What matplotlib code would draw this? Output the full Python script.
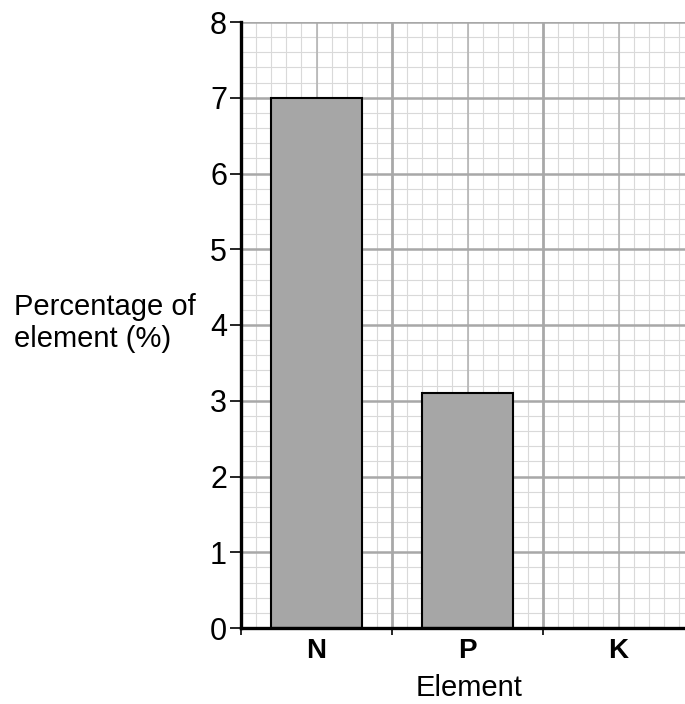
import numpy as np
import matplotlib.pyplot as plt

plt.rcParams['font.family'] = ['Liberation Sans', 'DejaVu Sans']

elements = ['N', 'P', 'K']
percent = [7.0, 3.1, 0.0]
y_ticks = [0, 1, 2, 3, 4, 5, 6, 7, 8]

fig = plt.figure(figsize=(6.85, 7.04), dpi=100)
W, H = 685, 704
# axes goes a bit past the right edge, like the cropped original
ax = fig.add_axes([241/W, 76/H, 453/W, 606/H])

ax.set_xlim(0, 3)
ax.set_ylim(0, 8)

# graph paper grid
for x in np.arange(0, 3.01, 0.1):
    ax.axvline(x, color='#d9d9d9', lw=0.8, zorder=0)
for y in np.arange(0, 8.01, 0.2):
    ax.axhline(y, color='#d9d9d9', lw=0.8, zorder=0)
for x in [0.5, 1.5, 2.5]:
    ax.axvline(x, color='#b4b4b4', lw=1.2, zorder=0)
for y in y_ticks:
    ax.axhline(y, color='#a8a8a8', lw=1.8, zorder=0)
for x in [1, 2, 3]:
    ax.axvline(x, color='#a8a8a8', lw=2.0, zorder=0)

xpos = np.arange(len(elements)) + 0.5
ax.bar(xpos, percent, width=0.6, color='#a6a6a6', edgecolor='black', linewidth=1.5, zorder=2)

for s in ['top', 'right']:
    ax.spines[s].set_visible(False)
ax.spines['left'].set_linewidth(2.4)
ax.spines['bottom'].set_linewidth(2.4)
ax.spines['left'].set_zorder(3)
ax.spines['bottom'].set_zorder(3)

ax.set_yticks(y_ticks)
ax.tick_params(axis='y', length=8, width=1.2, labelsize=22, pad=2)
ax.set_xticks([0, 1, 2, 3])
ax.set_xticklabels([])
ax.tick_params(axis='x', length=5, width=1.2)

for x, lab in zip(xpos, elements):
    ax.text(x, -0.3, lab, ha='center', va='center', fontsize=20, fontweight='bold')

fig.text(469/W, 1 - 688/H, 'Element', ha='center', va='center', fontsize=21)
fig.text(14/W, 1 - 323/H, 'Percentage of\nelement (%)', ha='left', va='center',
         fontsize=21, linespacing=1.22)

fig.savefig('out.png', dpi=100)
